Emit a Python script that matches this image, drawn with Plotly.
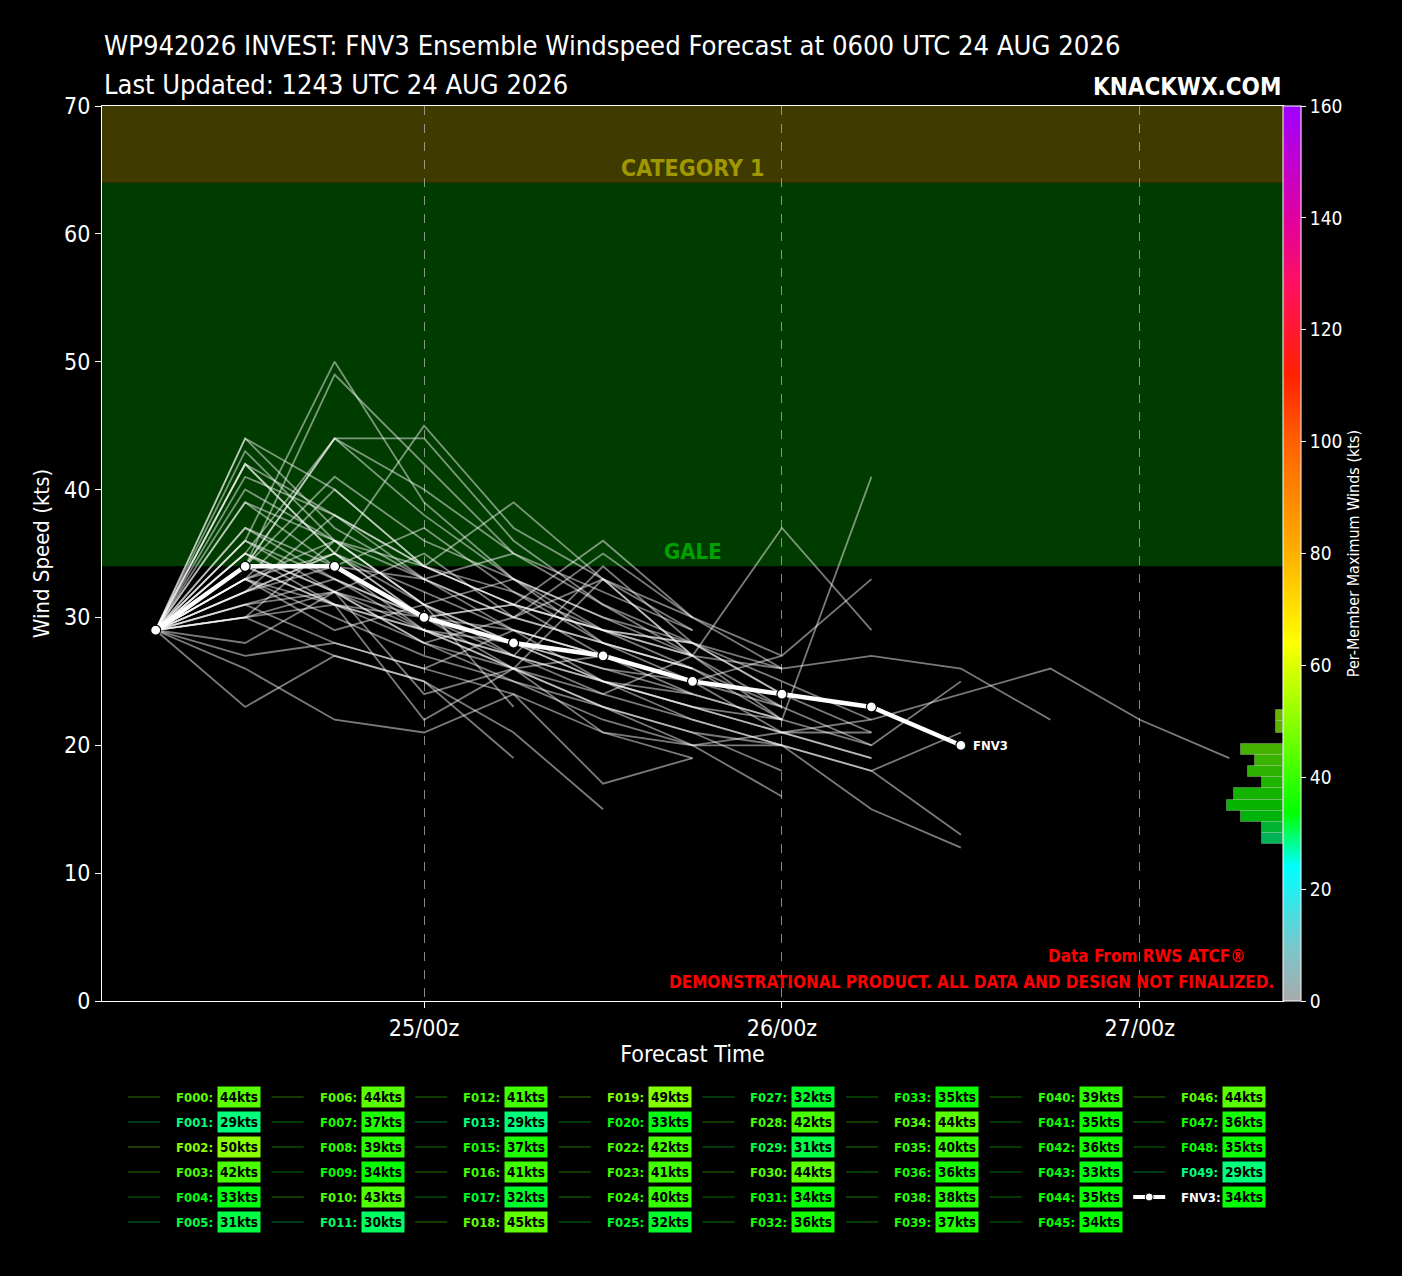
import numpy as np
import pandas as pd
import plotly.graph_objects as go
import plotly.colors as pc

#--- forecast data (kts, every 6 h from 0600 UTC 24 AUG) ---
base_time = pd.Timestamp("2026-08-24 06:00")
forecast_hours = list(range(0, 73, 6))

member_ids = ["F000", "F001", "F002", "F003", "F004", "F005", "F006", "F007", "F008", "F009",
              "F010", "F011", "F012", "F013", "F015", "F016", "F017", "F018", "F019", "F020",
              "F022", "F023", "F024", "F025", "F027", "F028", "F029", "F030", "F031", "F032",
              "F033", "F034", "F035", "F036", "F038", "F039", "F040", "F041", "F042", "F043",
              "F044", "F045", "F046", "F047", "F048", "F049"]
member_max = [44, 29, 50, 42, 33, 31, 44, 37, 39, 34,
              43, 30, 41, 29, 37, 41, 32, 45, 49, 33,
              42, 41, 40, 32, 32, 42, 31, 44, 34, 36,
              35, 44, 40, 36, 38, 37, 39, 35, 36, 33,
              35, 34, 44, 36, 35, 29]
member_winds = [
    [29, 44, 37, 33, 30, 28, 26],
    [29, 27, 28, 26, 29, 25, 23, 21, 19],
    [29, 36, 50, 39, 33, 30, 27],
    [29, 42, 35, 32, 29, 27, 25, 21, 21],
    [29, 33, 31, 29, 28, 26, 24],
    [29, 30, 31, 28, 25, 23, 21, 20, 18, 13],
    [29, 44, 40, 34, 31, 29, 27, 26],
    [29, 37, 33, 30, 27, 34, 28, 24],
    [29, 39, 34, 37, 32, 29, 26],
    [29, 32, 34, 29, 27, 25, 23, 22, 20, 25],
    [29, 43, 36, 31, 33, 28, 25],
    [29, 30, 27, 25, 21, 15],
    [29, 32, 35, 30, 28, 25, 24, 22, 41],
    [29, 23, 27, 25, 19],
    [29, 37, 34, 33, 35],
    [29, 41, 38, 34, 31, 29, 28, 26, 27, 26, 22],
    [29, 31, 32, 24, 26, 21, 20, 20],
    [29, 33, 35, 45, 37, 33, 30, 27],
    [29, 34, 49, 42, 35, 31, 28],
    [29, 33, 29, 31, 28, 25, 22, 20, 18, 21],
    [29, 42, 35, 30, 31, 36, 30, 26],
    [29, 34, 41, 36, 33, 30, 28, 25, 22],
    [29, 33, 40, 34, 32, 28, 26, 23],
    [29, 30, 32, 28, 26, 27, 24, 22],
    [29, 28, 32, 29, 27, 25, 23, 21, 22, 24, 26, 22, 19],
    [29, 42, 38, 33, 30, 28, 26, 22],
    [29, 31, 28, 26, 24, 17, 19],
    [29, 34, 44, 44, 36, 31, 27],
    [29, 34, 31, 29, 26, 23, 20, 16],
    [29, 36, 33, 30, 31, 27, 25, 23, 20],
    [29, 35, 32, 28, 30, 35, 30],
    [29, 34, 44, 38, 33, 29, 27],
    [29, 40, 36, 33, 29, 27, 25],
    [29, 30, 36, 31, 28, 26, 25, 27, 33],
    [29, 32, 38, 34, 31, 29, 28, 24, 21],
    [29, 31, 33, 29, 26, 24, 27, 37, 29],
    [29, 39, 36, 34, 39, 33, 29],
    [29, 35, 32, 30, 26, 33, 27, 22],
    [29, 33, 36, 31, 23],
    [29, 33, 30, 27, 25, 22, 20, 21, 19],
    [29, 32, 35, 31, 27, 24, 22, 20, 15, 12],
    [29, 34, 31, 22, 26, 23, 21, 18],
    [29, 35, 44, 40, 35, 32, 29],
    [29, 36, 32, 35, 30, 33, 27, 23],
    [29, 35, 31, 30, 29, 27, 25],
    [29, 26, 22, 21, 24, 21, 19],
]
fnv3_winds = [29, 34, 34, 30, 28, 27, 25, 24, 23, 20]
fnv3_max = 34

#colour scale used for per-member maximum winds
wind_scale = [[0.0, "rgb(170,170,170)"], [0.0625, "rgb(120,200,205)"], [0.15, "rgb(0,255,255)"],
              [0.21, "rgb(0,255,0)"], [0.26, "rgb(68,255,0)"], [0.4, "rgb(255,255,0)"],
              [0.5, "rgb(255,176,0)"], [0.625, "rgb(255,96,0)"], [0.7, "rgb(255,32,0)"],
              [0.8, "rgb(255,16,96)"], [0.875, "rgb(224,0,160)"], [1.0, "rgb(160,0,255)"]]
CMAX = 160
FONT = "DejaVu Sans Condensed, DejaVu Sans, sans-serif"


def kt_color(v, alpha=1.0):
    r, g, b = pc.unlabel_rgb(pc.sample_colorscale(wind_scale, [v / CMAX])[0])
    return f"rgba({int(r)},{int(g)},{int(b)},{alpha})"


times = [base_time + pd.Timedelta(hours=h) for h in forecast_hours]

fig = go.Figure()

#spaghetti lines for every member
for winds in member_winds:
    fig.add_trace(go.Scatter(x=times[:len(winds)], y=winds, mode="lines",
                             line=dict(color="rgba(255,255,255,0.48)", width=1.8),
                             showlegend=False, hoverinfo="skip"))

#FNV3 ensemble mean
fig.add_trace(go.Scatter(x=times[:len(fnv3_winds)], y=fnv3_winds, mode="lines+markers",
                         line=dict(color="white", width=4.5),
                         marker=dict(size=10, color="white", line=dict(color="black", width=1.2)),
                         showlegend=False))

#histogram of per-member max winds, drawn on the colorbar scale
all_max = member_max + [fnv3_max]
counts, edges = np.histogram(all_max, bins=np.arange(28, 54, 2))
centers = (edges[:-1] + edges[1:]) / 2
keep = counts > 0
fig.add_trace(go.Bar(x=counts[keep], y=centers[keep], orientation="h", width=2,
                     marker=dict(color=[kt_color(c, 0.7) for c in centers[keep]],
                                 line=dict(color="rgba(255,255,255,0.25)", width=1)),
                     xaxis="x2", yaxis="y2", showlegend=False, hoverinfo="skip"))

#colorbar holder
fig.add_trace(go.Scatter(x=[times[0]], y=[None], mode="markers", showlegend=False, hoverinfo="skip",
                         marker=dict(color=[0], cmin=0, cmax=CMAX, colorscale=wind_scale, showscale=True,
                                     colorbar=dict(x=1.0, xanchor="left", xpad=0, y=0.5, yanchor="middle",
                                                   len=1, ypad=0, thickness=18, outlinecolor="white",
                                                   outlinewidth=1, ticks="outside", tickcolor="white",
                                                   ticklen=5, tickvals=list(range(0, 161, 20)),
                                                   tickfont=dict(family=FONT, size=19, color="white"),
                                                   title=dict(text="Per-Member Maximum Winds (kts)", side="right",
                                                              font=dict(family=FONT, size=16, color="white"))))))

#intensity bands
shapes = [dict(type="rect", xref="paper", yref="y", x0=0, x1=1, y0=34, y1=64,
               fillcolor="rgb(0,60,0)", line_width=0, layer="below"),
          dict(type="rect", xref="paper", yref="y", x0=0, x1=1, y0=64, y1=70,
               fillcolor="rgb(62,58,0)", line_width=0, layer="below")]

annotations = [
    dict(text="<b>CATEGORY 1</b>", x=0.5, y=64, xref="paper", yref="y", yanchor="bottom",
         showarrow=False, font=dict(family=FONT, size=23, color="rgb(160,152,0)")),
    dict(text="<b>GALE</b>", x=0.5, y=34, xref="paper", yref="y", yanchor="bottom",
         showarrow=False, font=dict(family=FONT, size=22, color="rgb(0,160,0)")),
    dict(text="<b>FNV3</b>", x=times[len(fnv3_winds) - 1], y=fnv3_winds[-1], xref="x", yref="y",
         xanchor="left", xshift=10, showarrow=False, font=dict(family=FONT, size=13, color="white")),
    dict(text="WP942026 INVEST: FNV3 Ensemble Windspeed Forecast at 0600 UTC 24 AUG 2026",
         x=0, y=1.068, xref="paper", yref="paper", xanchor="left", yanchor="middle", showarrow=False,
         font=dict(family=FONT, size=27.2, color="white")),
    dict(text="Last Updated: 1243 UTC 24 AUG 2026", x=0, y=1.0235, xref="paper", yref="paper",
         xanchor="left", yanchor="middle", showarrow=False, font=dict(family=FONT, size=27, color="white")),
    dict(text="<b>KNACKWX.COM</b>", x=1, y=1.021, xref="paper", yref="paper", xanchor="right",
         yanchor="middle", showarrow=False, font=dict(family=FONT, size=24, color="white")),
    dict(text="<b>Data From RWS ATCF®</b>", x=0.97, y=0.05, xref="paper", yref="paper", xanchor="right",
         yanchor="middle", showarrow=False, font=dict(family=FONT, size=17, color="red")),
    dict(text="<b>DEMONSTRATIONAL PRODUCT. ALL DATA AND DESIGN NOT FINALIZED.</b>", x=0.994, y=0.0215,
         xref="paper", yref="paper", xanchor="right", yanchor="middle", showarrow=False,
         font=dict(family=FONT, size=17, color="red")),
]

#custom legend grid (column-major, 6 rows)
PLOT_L, PLOT_W, PLOT_B, PLOT_H = 102, 1181, 1001, 895
px_x = lambda p: (p - PLOT_L) / PLOT_W
px_y = lambda p: (PLOT_B - p) / PLOT_H
legend_items = list(zip(member_ids, member_max)) + [("FNV3", fnv3_max)]
for i, (name, vmax) in enumerate(legend_items):
    col, row = divmod(i, 6)
    cx = 128 + col * 143.6
    cy = 1097 + row * 25
    is_mean = name == "FNV3"
    col_full = kt_color(vmax)
    if is_mean:
        shapes.append(dict(type="line", xref="paper", yref="paper", x0=px_x(cx), x1=px_x(cx + 32),
                           y0=px_y(cy), y1=px_y(cy), line=dict(color="white", width=4)))
        shapes.append(dict(type="circle", xref="paper", yref="paper", x0=px_x(cx + 12), x1=px_x(cx + 20),
                           y0=px_y(cy - 4), y1=px_y(cy + 4), fillcolor="white", line=dict(color="black", width=1)))
    else:
        shapes.append(dict(type="line", xref="paper", yref="paper", x0=px_x(cx), x1=px_x(cx + 32),
                           y0=px_y(cy), y1=px_y(cy), line=dict(color=kt_color(vmax, 0.3), width=1.5)))
    annotations.append(dict(text=f"<b>{name}:</b>", x=px_x(cx + 46), y=px_y(cy), xref="paper", yref="paper",
                            xanchor="left", yanchor="middle", showarrow=False,
                            font=dict(family=FONT, size=13, color="white" if is_mean else col_full)))
    annotations.append(dict(text=f"<b>{vmax}kts</b>", x=px_x(cx + 89), y=px_y(cy), xref="paper", yref="paper",
                            xanchor="left", yanchor="middle", showarrow=False, bgcolor=col_full, borderpad=2,
                            font=dict(family=FONT, size=13.5, color="black")))

tick_days = [pd.Timestamp(f"2026-08-{d} 00:00") for d in (25, 26, 27)]
fig.update_layout(
    width=1402, height=1276, autosize=False,
    margin=dict(l=102, r=119, t=106, b=275),
    paper_bgcolor="black", plot_bgcolor="black",
    font=dict(family=FONT, color="white"),
    shapes=shapes, annotations=annotations, showlegend=False, bargap=0,
    xaxis=dict(type="date", range=[base_time - pd.Timedelta(hours=3.6), base_time + pd.Timedelta(hours=75.6)],
               tickvals=tick_days, ticktext=[d.strftime("%d/%Hz") for d in tick_days],
               showgrid=True, gridcolor="rgba(190,190,190,0.7)", griddash="dash", gridwidth=1,
               showline=True, linecolor="white", linewidth=1, mirror=True, zeroline=False,
               ticks="outside", tickcolor="white", ticklen=6, tickfont=dict(size=23, color="white"),
               title=dict(text="Forecast Time", font=dict(size=23, color="white"), standoff=6)),
    yaxis=dict(range=[0, 70], tickvals=list(range(0, 71, 10)), showgrid=False, zeroline=False,
               showline=True, linecolor="white", linewidth=1, mirror=True,
               ticks="outside", tickcolor="white", ticklen=6, tickfont=dict(size=23, color="white"),
               title=dict(text="Wind Speed (kts)", font=dict(size=22, color="white"), standoff=8)),
    xaxis2=dict(overlaying="x", range=[PLOT_W / 7, 0], visible=False),
    yaxis2=dict(overlaying="y", range=[0, CMAX], visible=False),
)

fig.write_html("out.html", config={"displayModeBar": False},
               post_script="document.body.style.margin='0';")
